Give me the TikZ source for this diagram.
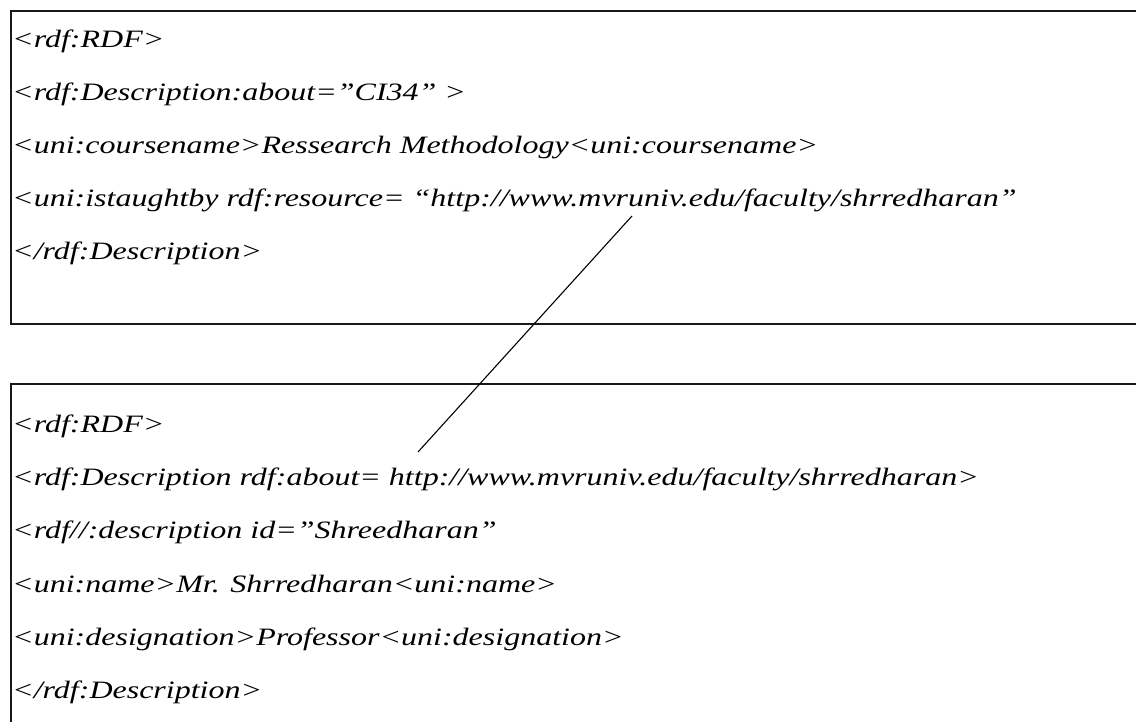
\documentclass[tikz,border=0pt]{standalone}
\usepackage{fontspec}
\setmainfont{Liberation Serif}
\newfontfamily\codefont[FakeStretch=1.28]{Liberation Serif}
\begin{document}
\begin{tikzpicture}[x=1pt,y=-1pt,
  frame/.style={draw=black!90,line width=2pt},
  codeline/.style={anchor=base west,inner sep=0pt,font=\codefont\fontsize{25}{30}\selectfont\itshape},
  link/.style={draw=black,line width=1.1pt}]
\useasboundingbox (0,0) rectangle (1136,722);
\clip (0,0) rectangle (1136,722);
% the two framed blocks, running off the right (and lower) edge
\draw[frame] (10.5,11) rectangle (1150,324);
\draw[frame] (10.5,383.5) rectangle (1150,740);
% first block
\node[codeline] (a1) at (12,48) {<rdf:RDF>};
\node[codeline] (a2) at (12,101) {<rdf:Description:about=”CI34” >};
\node[codeline] (a3) at (12,154) {<uni:coursename>Ressearch Methodology<uni:coursename>};
\node[codeline] (a4) at (12,207) {<uni:istaughtby rdf:resource= “http://www.mvruniv.edu/faculty/shrredharan”};
\node[codeline] (a5) at (12,260) {</rdf:Description>};
% second block
\node[codeline] (b1) at (12,432) {<rdf:RDF>};
\node[codeline] (b2) at (12,485) {<rdf:Description rdf:about= http://www.mvruniv.edu/faculty/shrredharan>};
\node[codeline] (b3) at (12,538) {<rdf//:description id=”Shreedharan”};
\node[codeline] (b4) at (12,592) {<uni:name>Mr. Shrredharan<uni:name>};
\node[codeline] (b5) at (12,645) {<uni:designation>Professor<uni:designation>};
\node[codeline] (b6) at (12,698) {</rdf:Description>};
% connector from the resource URI to the described resource
\coordinate (uriref) at (632,216);
\coordinate (uridef) at (418,452);
\draw[link] (uriref) -- (uridef);
\end{tikzpicture}
\end{document}
